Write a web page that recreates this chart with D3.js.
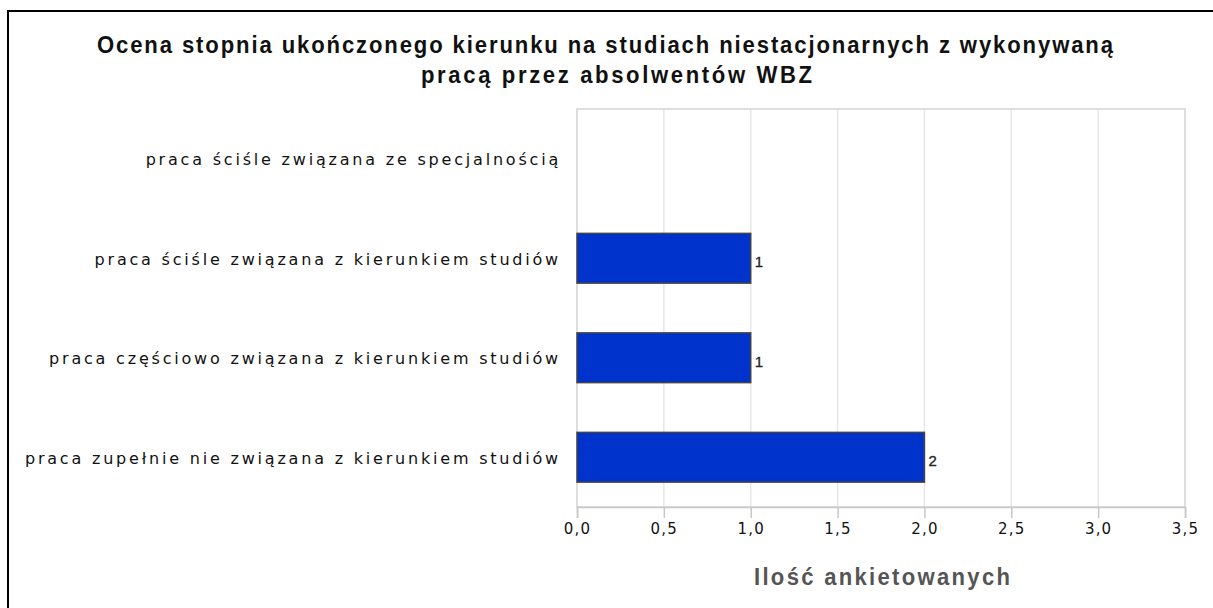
<!DOCTYPE html>
<html><head><meta charset="utf-8">
<script src="https://cdn.jsdelivr.net/npm/d3@7"></script>
<style>html,body{margin:0;padding:0;background:#fff;}svg{display:block;}</style>
</head><body>
<svg id="chart" width="1213" height="608"></svg>
<script>
const categories = [
  "praca ściśle związana ze specjalnością",
  "praca ściśle związana z kierunkiem studiów",
  "praca częściowo związana z kierunkiem studiów",
  "praca zupełnie nie związana z kierunkiem studiów"
];
const values = [0, 1, 1, 2];
const xTicks = [0, 0.5, 1, 1.5, 2, 2.5, 3, 3.5];
const titleLines = ["Ocena stopnia ukończonego kierunku na studiach niestacjonarnych z wykonywaną", "pracą przez absolwentów WBZ"];
const xAxisTitle = "Ilość ankietowanych";

const svg = d3.select("#chart");
const W = 1213, H = 608;
const plot = {left: 577, right: 1185, top: 109, bottom: 507};
const SX = 0.96; // slight horizontal condensing of the title font

// outer frame (top and left lines)
svg.append("rect").attr("x", 0).attr("y", 0).attr("width", W).attr("height", H).attr("fill", "#fff");
svg.append("line").attr("x1", 7).attr("x2", W).attr("y1", 11).attr("y2", 11).attr("stroke", "#000").attr("stroke-width", 2);
svg.append("line").attr("x1", 8).attr("x2", 8).attr("y1", 10).attr("y2", H).attr("stroke", "#000").attr("stroke-width", 2);

const x = d3.scaleLinear().domain([0, 3.5]).range([plot.left, plot.right]);
const y = d3.scaleBand().domain(categories).range([plot.top, plot.bottom]).paddingInner(0.5).paddingOuter(0.25);

// gridlines
svg.append("g").selectAll("line").data(xTicks.slice(1, -1)).join("line")
  .attr("x1", d => x(d)).attr("x2", d => x(d))
  .attr("y1", plot.top).attr("y2", plot.bottom)
  .attr("stroke", "#e6e6e6").attr("stroke-width", 1.5);

// plot frame
svg.append("rect").attr("x", plot.left).attr("y", plot.top)
  .attr("width", plot.right - plot.left).attr("height", plot.bottom - plot.top)
  .attr("fill", "none").attr("stroke", "#d4d4d4").attr("stroke-width", 1.5);

// bars
const rows = values.map((v, i) => ({c: categories[i], v}));
svg.append("g").selectAll("rect").data(rows.filter(d => d.v > 0)).join("rect")
  .attr("x", x(0)).attr("y", d => y(d.c))
  .attr("width", d => x(d.v) - x(0)).attr("height", y.bandwidth())
  .attr("fill", "#0033cc").attr("stroke", "#444").attr("stroke-width", 1.5);

// value labels
svg.append("g").selectAll("text").data(rows.filter(d => d.v > 0)).join("text")
  .attr("x", d => x(d.v) + 4).attr("y", d => y(d.c) + y.bandwidth() / 2 + 9)
  .attr("font-family", "Liberation Sans, Arial, sans-serif").attr("font-size", 15)
  .attr("fill", "#222").attr("stroke", "#222").attr("stroke-width", 0.3).text(d => d.v);

// x axis
const xAxis = d3.axisBottom(x).tickValues(xTicks).tickSize(11).tickPadding(5)
  .tickFormat(d => d3.format(".1f")(d).replace(".", ","));
const gx = svg.append("g").attr("transform", `translate(0,${plot.bottom})`).call(xAxis);
gx.select(".domain").attr("stroke", "#c8c8c8").attr("stroke-width", 1.5);
gx.selectAll(".tick line").attr("stroke", "#c8c8c8").attr("stroke-width", 1.5);
gx.selectAll(".tick text").attr("font-family", "DejaVu Sans, sans-serif").attr("font-size", 15)
  .attr("fill", "#111").attr("letter-spacing", 1.2);

// y axis labels
const yAxis = d3.axisLeft(y).tickSize(0).tickPadding(16);
const gy = svg.append("g").attr("transform", `translate(${plot.left},0)`).call(yAxis);
gy.select(".domain").remove();
gy.selectAll(".tick text").attr("font-family", "DejaVu Sans, sans-serif").attr("font-size", 16)
  .attr("fill", "#111").attr("letter-spacing", 2.8).attr("dy", "0.42em");

// title (bold)
const titlePos = [{x: 97, y: 53, w: 1016}, {x: 421, y: 83, w: 391}];
svg.append("g").selectAll("text").data(titleLines).join("text")
  .attr("transform", (d, i) => `translate(${titlePos[i].x},${titlePos[i].y}) scale(${SX},1)`)
  .attr("x", 0).attr("y", 0)
  .attr("textLength", (d, i) => titlePos[i].w / SX).attr("lengthAdjust", "spacing")
  .attr("font-family", "Liberation Sans, Arial, sans-serif").attr("font-weight", "bold")
  .attr("font-size", 23).attr("fill", "#111")
  .text(d => d);

// axis title
svg.append("text")
  .attr("transform", `translate(754,585) scale(${SX},1)`)
  .attr("textLength", 256 / SX).attr("lengthAdjust", "spacing")
  .attr("font-family", "Liberation Sans, Arial, sans-serif").attr("font-weight", "bold")
  .attr("font-size", 23).attr("fill", "#555")
  .text(xAxisTitle);
</script>
</body></html>
